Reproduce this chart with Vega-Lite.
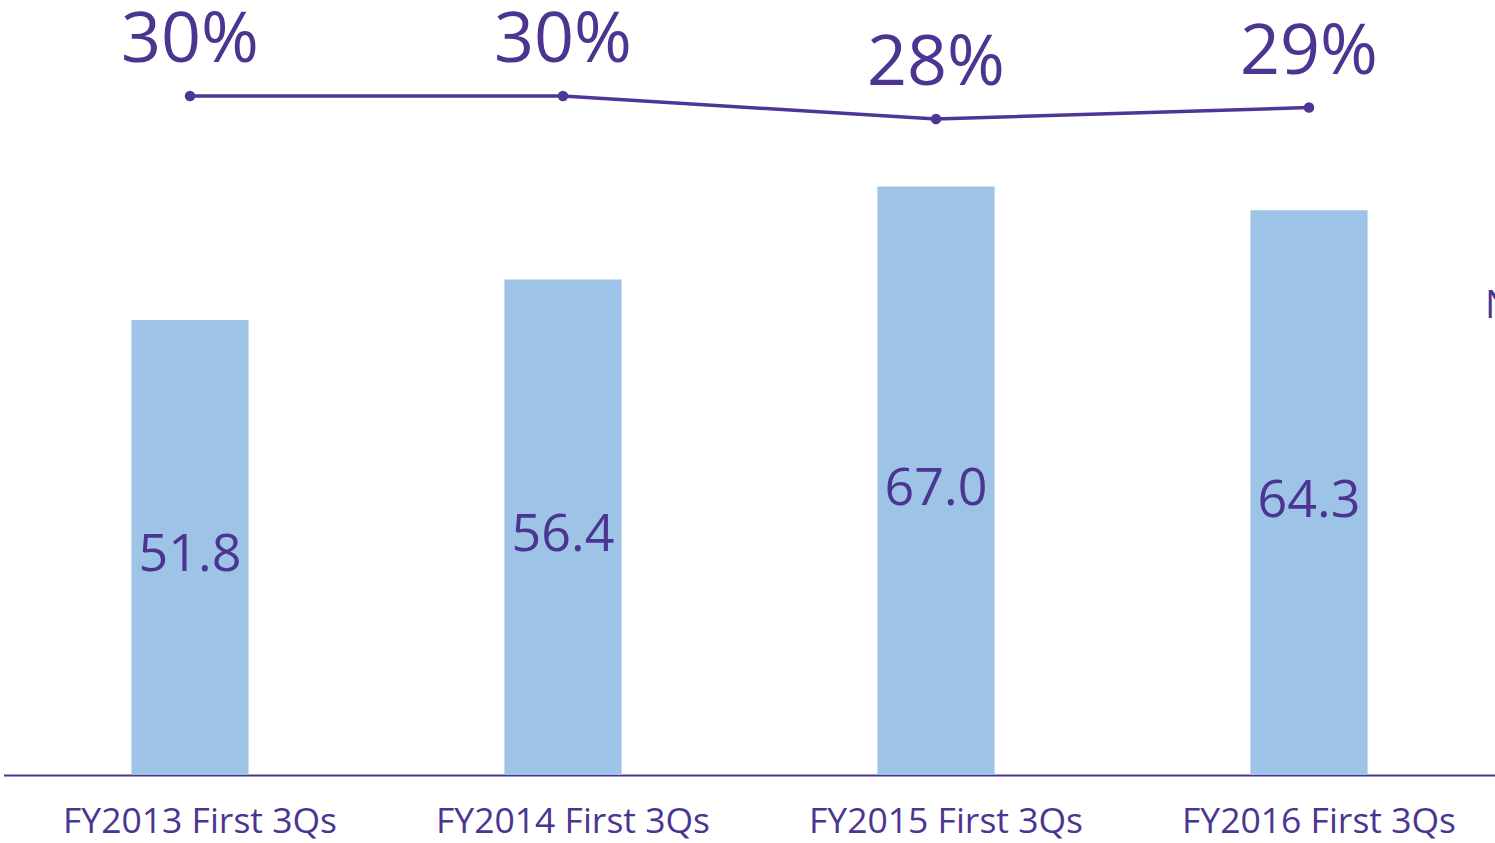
{
  "$schema": "https://vega.github.io/schema/vega-lite/v6.json",
  "autosize": {"type": "none"},
  "padding": {"left": 3.5, "top": 0, "right": 0, "bottom": 68},
  "width": 1492,
  "height": 775,
  "background": "white",
  "config": {"view": {"stroke": null}, "font": "Open Sans"},
  "data": {"values": [
    {"period": "FY2013 First 3Qs", "value": 51.8, "pct": 0.30, "pctLabel": "30%", "valueLabel": "51.8"},
    {"period": "FY2014 First 3Qs", "value": 56.4, "pct": 0.30, "pctLabel": "30%", "valueLabel": "56.4"},
    {"period": "FY2015 First 3Qs", "value": 67.0, "pct": 0.28, "pctLabel": "28%", "valueLabel": "67.0"},
    {"period": "FY2016 First 3Qs", "value": 64.3, "pct": 0.29, "pctLabel": "29%", "valueLabel": "64.3"}
  ]},
  "encoding": {
    "x": {
      "field": "period", "type": "nominal", "sort": null,
      "scale": {"paddingInner": 0.686, "paddingOuter": 0.343},
      "axis": {"title": null, "ticks": false, "labelAngle": 0, "labelFontSize": 35.5, "labelColor": "#4B3591", "labelFont": "Open Sans", "labelBaseline": "middle", "labelPadding": 46, "labelLimit": 600, "labelOffset": 10, "labelOverlap": false, "domainColor": "#4B3591", "domainWidth": 2, "domainOpacity": 1, "grid": false}
    }
  },
  "layer": [
    {
      "mark": {"type": "bar", "color": "#9DC3E6"},
      "encoding": {
        "y": {"field": "value", "type": "quantitative", "scale": {"domain": [0, 88.23], "nice": false, "zero": true}, "axis": null}
      }
    },
    {
      "mark": {"type": "text", "color": "#4B3591", "fontSize": 52, "baseline": "middle", "dy": 8, "font": "Open Sans"},
      "encoding": {
        "y": {"field": "value", "type": "quantitative", "scale": {"domain": [0, 176.46], "nice": false, "zero": true}, "axis": null},
        "text": {"field": "valueLabel"}
      }
    },
    {
      "encoding": {
        "y": {"field": "pct", "type": "quantitative", "scale": {"domain": [-0.2904, 0.3835], "nice": false, "zero": false},
          "axis": {"orient": "right", "labels": false, "ticks": false, "domain": false, "grid": false, "title": "Net profit margin", "titleAngle": 0, "titleAlign": "left", "titleBaseline": "alphabetic", "titleX": -11, "titleY": 317, "titleLimit": 2000, "titleFontSize": 38, "titleFontWeight": "normal", "titleColor": "#4B3591", "titleFont": "Open Sans"}}
      },
      "layer": [
        {"mark": {"type": "line", "color": "#4F3597", "strokeWidth": 3.5}},
        {"mark": {"type": "point", "filled": true, "color": "#4F3597", "size": 110, "opacity": 1}},
        {"mark": {"type": "text", "color": "#4B3591", "fontSize": 70, "baseline": "alphabetic", "dy": -34, "font": "Open Sans"}, "encoding": {"text": {"field": "pctLabel"}}}
      ]
    }
  ],
  "resolve": {"scale": {"y": "independent"}}
}
